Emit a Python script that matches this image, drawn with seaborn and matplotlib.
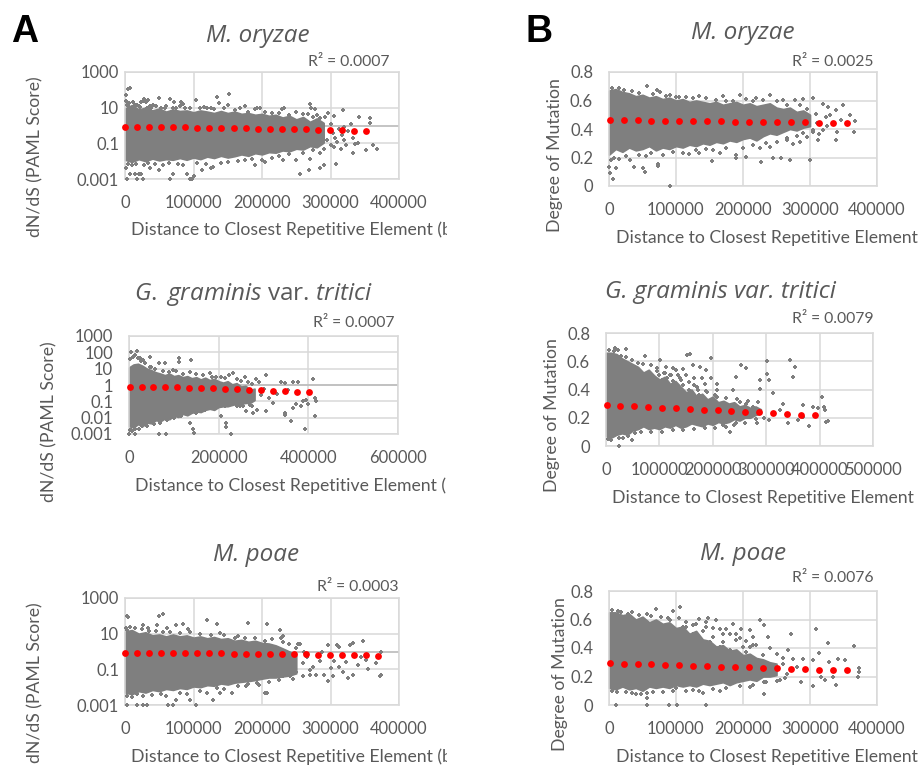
import matplotlib
matplotlib.use("Agg")
import matplotlib.pyplot as plt
import pandas as pd
import seaborn as sns
from matplotlib.transforms import Bbox

W, H = 922, 765
GREY = "#7f7f7f"
TXT = "#595959"
GRID = "#d9d9d9"

# dense part of each cloud, read as lower / upper edge per distance
a1_cloud_x = [0, 10000, 20000, 30000, 40000, 50000, 60000, 70000, 80000, 90000, 100000, 110000, 120000, 130000, 140000,
              150000, 160000, 170000, 180000, 190000, 200000, 210000, 220000, 230000, 240000, 250000, 260000, 270000,
              280000, 290000]
a1_cloud_lo = [0.012, 0.009, 0.013, 0.010, 0.014, 0.011, 0.013, 0.012, 0.015, 0.012, 0.016, 0.013, 0.018, 0.015, 0.02,
               0.016, 0.019, 0.024, 0.02, 0.028, 0.024, 0.032, 0.03, 0.04, 0.036, 0.05, 0.045, 0.07, 0.06, 0.11]
a1_cloud_hi = [9, 14, 8, 10, 7, 9, 6, 8, 6.5, 7, 5.5, 7, 6, 5, 6.5, 5, 6, 4.5, 5, 4, 4.5, 3.5, 4, 2.8, 3.5, 2.2, 3, 1.6,
               2.5, 1.4]

a2_cloud_x = [0, 10000, 20000, 30000, 40000, 50000, 60000, 70000, 80000, 90000, 100000, 110000, 120000, 130000, 140000,
              150000, 160000, 170000, 180000, 190000, 200000, 210000, 220000, 230000, 240000, 250000, 260000, 270000,
              280000]
a2_cloud_lo = [0.003, 0.0025, 0.004, 0.003, 0.005, 0.0045, 0.007, 0.006, 0.009, 0.008, 0.013, 0.011, 0.017, 0.014, 0.02,
               0.024, 0.022, 0.03, 0.035, 0.03, 0.045, 0.05, 0.05, 0.06, 0.07, 0.07, 0.08, 0.08, 0.12]
a2_cloud_hi = [12, 18, 20, 15, 10, 8, 6, 5, 4, 5, 3.5, 4, 3, 3.5, 2.6, 3, 2.2, 2.8, 2, 2.4, 1.7, 1.4, 1.7, 1.1, 1.3, 0.8,
               0.9, 0.5, 0.6]

a3_cloud_x = [0, 10000, 20000, 30000, 40000, 50000, 60000, 70000, 80000, 90000, 100000, 110000, 120000, 130000, 140000,
              150000, 160000, 170000, 180000, 190000, 200000, 210000, 220000, 230000, 240000, 250000]
a3_cloud_lo = [0.005, 0.004, 0.006, 0.005, 0.007, 0.006, 0.008, 0.007, 0.009, 0.008, 0.011, 0.01, 0.013, 0.012, 0.016,
               0.014, 0.018, 0.02, 0.022, 0.025, 0.03, 0.035, 0.035, 0.04, 0.045, 0.06]
a3_cloud_hi = [13, 16, 10, 12, 8, 9, 7, 9, 7, 8, 6, 7, 5.5, 6.5, 5, 5.5, 4, 4.5, 3.5, 4, 3, 2.8, 2.2, 1.5, 1, 0.6]

b1_cloud_x = [0, 10000, 20000, 30000, 40000, 50000, 60000, 70000, 80000, 90000, 100000, 110000, 120000, 130000, 140000,
              150000, 160000, 170000, 180000, 190000, 200000, 210000, 220000, 230000, 240000, 250000, 260000, 270000,
              280000, 290000, 300000]
b1_cloud_lo = [0.22, 0.26, 0.24, 0.27, 0.25, 0.26, 0.28, 0.25, 0.27, 0.26, 0.28, 0.27, 0.29, 0.28, 0.30, 0.29, 0.31,
               0.30, 0.32, 0.31, 0.33, 0.34, 0.32, 0.35, 0.37, 0.36, 0.38, 0.40, 0.39, 0.41, 0.42]
b1_cloud_hi = [0.67, 0.68, 0.66, 0.65, 0.63, 0.64, 0.62, 0.63, 0.61, 0.62, 0.60, 0.61, 0.59, 0.60, 0.59, 0.58, 0.59,
               0.57, 0.58, 0.59, 0.57, 0.58, 0.56, 0.57, 0.58, 0.55, 0.54, 0.55, 0.52, 0.53, 0.50]

b2_cloud_x = [0, 10000, 20000, 30000, 40000, 50000, 60000, 70000, 80000, 90000, 100000, 110000, 120000, 130000, 140000,
              150000, 160000, 170000, 180000, 190000, 200000, 210000, 220000, 230000, 240000, 250000, 260000, 270000,
              280000, 290000]
b2_cloud_lo = [0.07, 0.06, 0.08, 0.09, 0.08, 0.11, 0.12, 0.14, 0.12, 0.13, 0.12, 0.14, 0.13, 0.15, 0.13, 0.14, 0.16,
               0.15, 0.14, 0.16, 0.15, 0.17, 0.16, 0.17, 0.19, 0.18, 0.2, 0.2, 0.22, 0.23]
b2_cloud_hi = [0.66, 0.66, 0.65, 0.62, 0.6, 0.58, 0.56, 0.52, 0.54, 0.5, 0.47, 0.49, 0.44, 0.46, 0.42, 0.38, 0.4, 0.35,
               0.37, 0.33, 0.35, 0.31, 0.32, 0.3, 0.31, 0.28, 0.29, 0.27, 0.28, 0.26]

b3_cloud_x = [0, 10000, 20000, 30000, 40000, 50000, 60000, 70000, 80000, 90000, 100000, 110000, 120000, 130000, 140000,
              150000, 160000, 170000, 180000, 190000, 200000, 210000, 220000, 230000, 240000, 250000]
b3_cloud_lo = [0.12, 0.11, 0.13, 0.11, 0.12, 0.1, 0.13, 0.12, 0.13, 0.12, 0.14, 0.13, 0.14, 0.13, 0.15, 0.14, 0.15, 0.16,
               0.14, 0.16, 0.17, 0.18, 0.17, 0.2, 0.2, 0.21]
b3_cloud_hi = [0.65, 0.65, 0.63, 0.64, 0.6, 0.62, 0.58, 0.6, 0.57, 0.58, 0.54, 0.55, 0.5, 0.52, 0.46, 0.45, 0.41, 0.42,
               0.38, 0.39, 0.35, 0.36, 0.33, 0.32, 0.3, 0.29]

# single points visible outside the dense part
a1_points = [(2000, 50), (4000, 110), (7000, 120), (1000, 25), (3000, 15), (6000, 18), (10000, 10), (14000, 14),
             (20000, 12), (26000, 25), (28000, 32), (30000, 20), (33000, 28), (24000, 22), (36000, 12), (41000, 14),
             (50000, 35), (60000, 12), (65000, 30), (70000, 9), (72000, 22), (80000, 12), (82000, 22), (84000, 16),
             (104000, 26), (120000, 10), (135000, 40), (137000, 18), (152000, 60), (150000, 15), (175000, 12),
             (190000, 8), (192000, 9), (197000, 9), (229000, 8), (232000, 9), (270000, 17), (272000, 10), (278000, 8),
             (318000, 7), (267000, 4.7), (342000, 3), (357000, 2.5), (357000, 1.3), (352000, 0.45), (352000, 0.042),
             (362000, 0.08), (368000, 0.05), (333000, 0.028), (340000, 0.1), (320000, 0.85), (308000, 0.0069),
             (292000, 3), (296000, 5), (300000, 1.2), (303000, 0.4), (306000, 0.2), (310000, 0.12), (313000, 0.6),
             (317000, 0.3), (320000, 0.15), (323000, 0.08), (326000, 0.5), (330000, 1.2), (333000, 0.2),
             (336000, 0.09), (300000, 0.08), (295000, 0.15), (305000, 0.06), (315000, 0.05), (285000, 0.03),
             (290000, 0.05), (280000, 4), (285000, 2.5), (275000, 3), (305000, 3.5),
             (2000, 0.004), (3000, 0.001), (8000, 0.002), (14000, 0.002), (17000, 0.001), (20000, 0.002),
             (24000, 0.002), (26000, 0.001), (36000, 0.004), (50000, 0.003), (66000, 0.001), (70000, 0.002),
             (90000, 0.002), (95000, 0.001), (100000, 0.0015), (98000, 0.001), (113000, 0.003), (125000, 0.004),
             (128000, 0.005), (190000, 0.006), (255000, 0.002), (269000, 0.003), (285000, 0.004), (290000, 0.006),
             (205000, 0.009), (230000, 0.012), (250000, 0.012), (270000, 0.014),
             (5000, 12), (12000, 20), (18000, 15), (22000, 11), (32000, 10), (38000, 9), (45000, 13), (52000, 10),
             (58000, 9), (75000, 10), (88000, 9), (95000, 10), (110000, 9), (115000, 11), (125000, 9), (130000, 8),
             (145000, 9), (160000, 7), (168000, 9), (180000, 6), (205000, 6), (215000, 5), (225000, 5), (240000, 4),
             (250000, 6), (260000, 4.5), (4000, 0.007), (10000, 0.006), (16000, 0.007), (28000, 0.006), (34000, 0.008),
             (44000, 0.007), (56000, 0.006), (64000, 0.008), (78000, 0.007), (85000, 0.006), (105000, 0.008),
             (118000, 0.007), (140000, 0.008), (150000, 0.009), (165000, 0.01), (175000, 0.012), (185000, 0.013),
             (200000, 0.011), (215000, 0.016), (225000, 0.02), (240000, 0.025), (260000, 0.03), (275000, 0.04)]
a2_points = [(5000, 100), (18000, 120), (13000, 68), (24000, 43), (31000, 34), (46000, 50), (68000, 21), (80000, 21),
             (111000, 47), (111000, 27), (139000, 34), (98000, 8), (46000, 13), (180000, 5.6), (195000, 3.2),
             (224000, 4), (232000, 5.2), (259000, 3.2), (284000, 2.3), (306000, 4), (291000, 1.6), (340000, 1.6),
             (347000, 1.3), (366000, 1.6), (377000, 1.6), (410000, 2.3), (414000, 0.16), (418000, 0.11),
             (414000, 0.013), (392000, 0.0019), (384000, 0.052), (373000, 0.07), (366000, 0.04), (388000, 0.1),
             (362000, 0.0067), (347000, 0.018), (347000, 0.014), (306000, 0.024), (321000, 0.08), (276000, 0.018),
             (261000, 0.024), (228000, 0.001), (217000, 0.0028), (217000, 0.0046), (206000, 0.013), (146000, 0.0012),
             (143000, 0.0019), (135000, 0.0046), (83000, 0.001), (68000, 0.001), (13000, 0.001), (5000, 0.0018),
             (1000, 0.001), (269000, 0.15), (247000, 0.05), (275000, 0.05), (285000, 0.03), (295000, 0.25),
             (300000, 0.6), (312000, 0.15), (330000, 0.3), (355000, 0.5), (395000, 0.12), (400000, 0.07),
             (3000, 40), (10000, 50), (20000, 45), (27000, 30), (35000, 22), (50000, 12), (58000, 9), (75000, 7),
             (90000, 6), (105000, 7), (120000, 5), (135000, 6), (150000, 4.5), (165000, 4), (185000, 3.2), (205000, 3),
             (215000, 2.8), (240000, 2.4), (250000, 1.8), (265000, 1.5), (275000, 1.2), (2000, 0.0018), (7000, 0.0015),
             (14000, 0.002), (22000, 0.002), (30000, 0.003), (40000, 0.003), (55000, 0.004), (70000, 0.005),
             (85000, 0.007), (100000, 0.01), (115000, 0.012), (130000, 0.016), (150000, 0.02), (170000, 0.03),
             (190000, 0.04), (215000, 0.05), (240000, 0.05), (255000, 0.05), (270000, 0.06)]
a3_points = [(2500, 102), (5000, 86), (1000, 20), (2500, 16), (49000, 102), (56000, 132), (46000, 32), (27000, 32),
             (34000, 21), (61000, 21), (75000, 32), (85000, 35), (92000, 18), (119000, 56), (134000, 35), (180000, 40),
             (207000, 35), (226000, 17), (231000, 7.7), (228000, 5.8), (165000, 7), (139000, 11), (253000, 2.7),
             (255000, 2.7), (287000, 1), (296000, 2.4), (309000, 2.4), (313000, 1.9), (328000, 2.4), (333000, 3),
             (347000, 3.7), (374000, 1), (367000, 0.22), (352000, 0.35), (340000, 0.17), (355000, 0.11), (374000, 0.046),
             (372000, 0.04), (333000, 0.046), (326000, 0.032), (304000, 0.04), (296000, 0.022), (279000, 0.05),
             (284000, 0.28), (313000, 0.14), (318000, 0.075), (250000, 0.072), (260000, 0.22), (270000, 0.097),
             (207000, 0.0046), (204000, 0.005), (192000, 0.017), (177000, 0.011), (156000, 0.0047), (139000, 0.0047),
             (129000, 0.0019), (104000, 0.001), (95000, 0.0019), (75000, 0.0019), (70000, 0.001), (63000, 0.001),
             (32000, 0.001), (27000, 0.001), (17000, 0.001), (2500, 0.001), (236000, 0.28), (241000, 0.04),
             (231000, 0.04), (245000, 0.13), (265000, 0.5), (275000, 0.13), (290000, 0.05), (300000, 0.12),
             (322000, 0.25), (345000, 0.5), (305000, 0.3),
             (7000, 25), (15000, 22), (25000, 18), (35000, 14), (45000, 14), (55000, 12), (65000, 13), (80000, 11),
             (95000, 12), (110000, 9), (125000, 8), (145000, 8), (160000, 6), (175000, 6), (190000, 6), (205000, 4),
             (215000, 5), (230000, 3.5), (240000, 2.5), (250000, 1.6), (262000, 1), (3000, 0.003), (10000, 0.0028),
             (18000, 0.004), (26000, 0.003), (40000, 0.0035), (52000, 0.004), (60000, 0.003), (80000, 0.005),
             (90000, 0.004), (110000, 0.006), (120000, 0.005), (135000, 0.009), (145000, 0.008), (165000, 0.012),
             (180000, 0.015), (195000, 0.014), (210000, 0.02), (225000, 0.025), (245000, 0.03), (260000, 0.04),
             (270000, 0.05)]
b1_points = [(23000, 0.676), (56000, 0.7), (71000, 0.672), (76000, 0.66), (91000, 0.637), (105000, 0.625),
             (135000, 0.63), (170000, 0.63), (195000, 0.64), (185000, 0.6), (220000, 0.62), (240000, 0.637),
             (260000, 0.606), (277000, 0.606), (290000, 0.61), (304000, 0.62), (319000, 0.578), (327000, 0.555),
             (349000, 0.567), (339000, 0.53), (359000, 0.497), (367000, 0.457), (347000, 0.462), (366000, 0.378),
             (339000, 0.322), (340000, 0.378), (319000, 0.392), (312000, 0.322), (300000, 0.182), (270000, 0.182),
             (257000, 0.194), (245000, 0.2), (227000, 0.166), (190000, 0.194), (153000, 0.177), (73000, 0.14),
             (73000, 0.154), (53000, 0.1), (51000, 0.124), (38000, 0.135), (11000, 0.124), (2000, 0.089),
             (6000, 0.047), (91000, 0), (0, 0.135), (120000, 0.224), (135000, 0.229), (165000, 0.229), (190000, 0.217),
             (205000, 0.205), (225000, 0.264), (240000, 0.275), (275000, 0.298), (285000, 0.31), (295000, 0.345),
             (304000, 0.38), (314000, 0.368), (324000, 0.485), (309000, 0.508), (295000, 0.543), (280000, 0.485),
             (265000, 0.32), (330000, 0.5), (310000, 0.44), (325000, 0.42),
             (5000, 0.685), (15000, 0.69), (35000, 0.665), (45000, 0.655), (65000, 0.645), (85000, 0.63), (100000, 0.625),
             (115000, 0.625), (125000, 0.62), (145000, 0.615), (160000, 0.605), (175000, 0.6), (205000, 0.61),
             (215000, 0.6), (230000, 0.605), (250000, 0.6), (265000, 0.57), (285000, 0.565), (3000, 0.18), (8000, 0.2),
             (15000, 0.19), (25000, 0.21), (32000, 0.18), (45000, 0.22), (55000, 0.21), (62000, 0.23), (80000, 0.22),
             (95000, 0.24), (110000, 0.23), (130000, 0.25), (145000, 0.26), (155000, 0.25), (175000, 0.27),
             (200000, 0.27), (215000, 0.29), (235000, 0.3), (250000, 0.31), (265000, 0.34), (280000, 0.35),
             (290000, 0.37), (305000, 0.39)]
b2_points = [(17000, 0.696), (23000, 0.678), (37000, 0.69), (73000, 0.635), (101000, 0.61), (145000, 0.548),
             (158000, 0.65), (151000, 0.642), (196000, 0.626), (176000, 0.56), (163000, 0.572), (132000, 0.536),
             (113000, 0.56), (188000, 0.536), (179000, 0.478), (197000, 0.478), (208000, 0.442), (208000, 0.395),
             (208000, 0.348), (238000, 0.4), (243000, 0.489), (252000, 0.576), (263000, 0.555), (289000, 0.407),
             (289000, 0.466), (301000, 0.513), (301000, 0.602), (306000, 0.466), (313000, 0.376), (344000, 0.607),
             (353000, 0.56), (350000, 0.485), (404000, 0.348), (409000, 0.278), (411000, 0.254), (412000, 0.172),
             (415000, 0.179), (381000, 0.141), (341000, 0.165), (359000, 0.184), (306000, 0.184), (282000, 0.165),
             (232000, 0.101), (225000, 0.136), (244000, 0.16), (25000, 0), (48000, 0.042), (331000, 0.3), (369000, 0.29),
             (387000, 0.278), (397000, 0.266), (263000, 0.3), (275000, 0.278), (250000, 0.313), (313000, 0.23),
             (325000, 0.254), (369000, 0.207), (120000, 0.5), (140000, 0.47), (150000, 0.5), (165000, 0.48),
             (170000, 0.42), (185000, 0.44), (130000, 0.42), (110000, 0.52), (125000, 0.55), (155000, 0.4),
             (175000, 0.36), (190000, 0.38), (160000, 0.38), (95000, 0.55), (105000, 0.47), (135000, 0.5),
             (115000, 0.48), (100000, 0.5), (145000, 0.43), (165000, 0.43), (125000, 0.46),
             (6000, 0.68), (15000, 0.675), (28000, 0.64), (38000, 0.63), (48000, 0.61), (60000, 0.59), (70000, 0.58),
             (85000, 0.57), (95000, 0.53), (108000, 0.52), (122000, 0.5), (138000, 0.48), (155000, 0.45), (172000, 0.4),
             (188000, 0.39), (205000, 0.36), (225000, 0.34), (245000, 0.33), (265000, 0.32), (285000, 0.31),
             (4000, 0.05), (10000, 0.04), (25000, 0.06), (32000, 0.06), (42000, 0.07), (55000, 0.09), (65000, 0.1),
             (85000, 0.1), (105000, 0.1), (125000, 0.11), (145000, 0.11), (165000, 0.12), (185000, 0.13), (205000, 0.13),
             (220000, 0.15), (240000, 0.15), (260000, 0.16), (280000, 0.19), (295000, 0.2)]
b3_points = [(13000, 0.658), (28000, 0.64), (56000, 0.64), (70000, 0.672), (96000, 0.658), (106000, 0.688),
             (91000, 0.595), (105000, 0.613), (135000, 0.606), (148000, 0.613), (160000, 0.595), (115000, 0.548),
             (125000, 0.5), (145000, 0.548), (155000, 0.478), (170000, 0.5), (185000, 0.571), (197000, 0.536),
             (210000, 0.525), (225000, 0.6), (232000, 0.56), (237000, 0.478), (215000, 0.478), (190000, 0.455),
             (165000, 0.408), (180000, 0.385), (200000, 0.408), (210000, 0.408), (230000, 0.35), (271000, 0.5),
             (267000, 0.385), (309000, 0.536), (327000, 0.438), (314000, 0.366), (366000, 0.413), (373000, 0.263),
             (373000, 0.233), (372000, 0.194), (352000, 0.315), (342000, 0.326), (329000, 0.303), (304000, 0.315),
             (290000, 0.326), (275000, 0.326), (260000, 0.29), (304000, 0.135), (339000, 0.14), (322000, 0.175),
             (317000, 0.198), (287000, 0.163), (232000, 0.077), (232000, 0.163), (210000, 0.128), (165000, 0.1),
             (140000, 0.086), (125000, 0.105), (100000, 0.121), (56000, 0.082), (56000, 0.047), (41000, 0.077),
             (11000, 0), (56000, 0), (89000, 0), (102000, 0), (145000, 0), (265000, 0.22), (255000, 0.175),
             (280000, 0.268), (334000, 0.198), (357000, 0.245), (125000, 0.56), (140000, 0.52), (150000, 0.44),
             (170000, 0.44), (120000, 0.46), (135000, 0.45), (110000, 0.55), (195000, 0.47), (220000, 0.42),
             (180000, 0.5), (155000, 0.54), (205000, 0.37),
             (4000, 0.665), (18000, 0.655), (35000, 0.655), (45000, 0.63), (62000, 0.625), (78000, 0.62), (88000, 0.61),
             (115000, 0.58), (130000, 0.57), (145000, 0.58), (165000, 0.53), (175000, 0.53), (190000, 0.5),
             (205000, 0.45), (215000, 0.42), (240000, 0.4), (250000, 0.36), (260000, 0.33), (5000, 0.1), (12000, 0.09),
             (25000, 0.09), (35000, 0.085), (48000, 0.08), (65000, 0.09), (80000, 0.09), (95000, 0.1), (115000, 0.1),
             (135000, 0.1), (155000, 0.11), (175000, 0.12), (195000, 0.13), (215000, 0.14), (235000, 0.16),
             (250000, 0.17), (262000, 0.19)]

# trendline dots
a1_trend_x = [0, 17600, 35200, 52800, 70400, 88000, 105600, 123200, 140800, 158400, 176000, 193600, 211200, 228800,
              246400, 264000, 281600, 299200, 316800, 334400, 352000]
a1_trend_y = [0.85, 0.84, 0.82, 0.81, 0.79, 0.78, 0.76, 0.75, 0.73, 0.71, 0.69, 0.67, 0.66, 0.63, 0.62, 0.6, 0.57,
              0.55, 0.53, 0.5, 0.47]
a2_trend_x = [1500, 28000, 54000, 81000, 108000, 134000, 161000, 188000, 214000, 241000, 268000, 294000, 321000,
              348000, 374000, 401000]
a2_trend_y = [0.79, 0.77, 0.74, 0.74, 0.71, 0.69, 0.63, 0.63, 0.6, 0.56, 0.51, 0.49, 0.45, 0.41, 0.38, 0.35]
a3_trend_x = [0, 17600, 35200, 52800, 70400, 88000, 105600, 123200, 140800, 158400, 176000, 193600, 211200, 228800,
              246400, 264000, 281600, 299200, 316800, 334400, 352000, 369600]
a3_trend_y = [0.85, 0.85, 0.84, 0.83, 0.82, 0.81, 0.8, 0.79, 0.78, 0.76, 0.75, 0.74, 0.72, 0.71, 0.7, 0.68, 0.67,
              0.65, 0.63, 0.61, 0.6, 0.58]
b1_trend_x = [1000, 21800, 42600, 63400, 84200, 105000, 125800, 146600, 167400, 188200, 209000, 229800, 250600,
              271400, 292200, 313000, 333800, 354600]
b1_trend_y = [0.462, 0.461, 0.46, 0.458, 0.457, 0.456, 0.455, 0.454, 0.453, 0.452, 0.451, 0.45, 0.449, 0.448, 0.446,
              0.445, 0.444, 0.441]
b2_trend_x = [1000, 27000, 53000, 79000, 105000, 131000, 157000, 183000, 209000, 235000, 261000, 287000, 313000,
              339000, 365000, 391000]
b2_trend_y = [0.289, 0.285, 0.28, 0.275, 0.27, 0.266, 0.262, 0.256, 0.252, 0.247, 0.243, 0.238, 0.234, 0.228, 0.222,
              0.216]
b3_trend_x = [1000, 21800, 42600, 63400, 84200, 105000, 125800, 146600, 167400, 188200, 209000, 229800, 250600,
              271400, 292200, 313000, 333800, 354600]
b3_trend_y = [0.294, 0.291, 0.288, 0.285, 0.282, 0.279, 0.276, 0.273, 0.27, 0.267, 0.264, 0.261, 0.258, 0.255, 0.252,
              0.249, 0.246, 0.243]

log_ticks = [1000, 10, 0.1, 0.001]
log_labels = ["1000", "10", "0.1", "0.001"]
all_log_ticks = [1000, 100, 10, 1, 0.1, 0.01, 0.001]
all_log_labels = ["1000", "100", "10", "1", "0.1", "0.01", "0.001"]
mut_ticks = [0, 0.2, 0.4, 0.6, 0.8]
mut_labels = ["0", "0.2", "0.4", "0.6", "0.8"]
x_ticks_400 = [0, 100000, 200000, 300000, 400000]
x_ticks_500 = [0, 100000, 200000, 300000, 400000, 500000]
x_ticks_600 = [0, 200000, 400000, 600000]

xname_bp = "Distance to Closest Repetitive Element (bp)"
xname = "Distance to Closest Repetitive Element"

panels = [
    dict(box=(125, 72, 399, 179), title="M. oryzae", title_xy=(258, 36), r2="R² = 0.0007", r2_xy=(349, 62),
         cloud=(a1_cloud_x, a1_cloud_lo, a1_cloud_hi), points=a1_points, trend=(a1_trend_x, a1_trend_y),
         xticks=x_ticks_400, yticks=log_ticks, ylabels=log_labels, ylim=(0.001, 1000), log=True, ypad=6,
         ylabel="dN/dS (PAML Score)", ylabel_xy=(35, 157), xlabel=xname_bp, xlabel_xy=(131, 230), tick_y=202),
    dict(box=(129, 336, 398, 434), title=r"$\mathit{G.}$ $\mathit{graminis}$ var. $\mathit{tritici}$", title_xy=(253, 295),
         r2="R² = 0.0007", r2_xy=(354, 323),
         cloud=(a2_cloud_x, a2_cloud_lo, a2_cloud_hi), points=a2_points, trend=(a2_trend_x, a2_trend_y),
         xticks=x_ticks_600, yticks=all_log_ticks, ylabels=all_log_labels, ylim=(0.001, 1000), log=True, ypad=16,
         ylabel="dN/dS (PAML Score)", ylabel_xy=(49, 422), xlabel=xname_bp, xlabel_xy=(135, 486), tick_y=457),
    dict(box=(125, 598, 399, 705), title="M. poae", title_xy=(256, 555), r2="R² = 0.0003", r2_xy=(358, 587),
         cloud=(a3_cloud_x, a3_cloud_lo, a3_cloud_hi), points=a3_points, trend=(a3_trend_x, a3_trend_y),
         xticks=x_ticks_400, yticks=log_ticks, ylabels=log_labels, ylim=(0.001, 1000), log=True, ypad=6,
         ylabel="dN/dS (PAML Score)", ylabel_xy=(35, 683), xlabel=xname_bp, xlabel_xy=(131, 757), tick_y=728),
    dict(box=(609, 72, 877, 186), title="M. oryzae", title_xy=(743, 33), r2="R² = 0.0025", r2_xy=(833, 62),
         cloud=(b1_cloud_x, b1_cloud_lo, b1_cloud_hi), points=b1_points, trend=(b1_trend_x, b1_trend_y),
         xticks=x_ticks_400, yticks=mut_ticks, ylabels=mut_labels, ylim=(0, 0.8), log=False, ypad=16,
         ylabel="Degree of Mutation", ylabel_xy=(555, 155), xlabel=xname, xlabel_xy=(616, 238), tick_y=209),
    dict(box=(606, 333, 873, 446), title="G. graminis var. tritici", title_xy=(720, 292), r2="R² = 0.0079", r2_xy=(833, 319),
         cloud=(b2_cloud_x, b2_cloud_lo, b2_cloud_hi), points=b2_points, trend=(b2_trend_x, b2_trend_y),
         xticks=x_ticks_500, yticks=mut_ticks, ylabels=mut_labels, ylim=(0, 0.8), log=False, ypad=16,
         ylabel="Degree of Mutation", ylabel_xy=(552, 415), xlabel=xname, xlabel_xy=(612, 498), tick_y=469),
    dict(box=(609, 591, 877, 705), title="M. poae", title_xy=(743, 554), r2="R² = 0.0076", r2_xy=(833, 578),
         cloud=(b3_cloud_x, b3_cloud_lo, b3_cloud_hi), points=b3_points, trend=(b3_trend_x, b3_trend_y),
         xticks=x_ticks_400, yticks=mut_ticks, ylabels=mut_labels, ylim=(0, 0.8), log=False, ypad=16,
         ylabel="Degree of Mutation", ylabel_xy=(560, 674), xlabel=xname, xlabel_xy=(616, 757), tick_y=728),
]

sns.set_style("white")
plt.rcParams["font.family"] = ["Lato", "DejaVu Sans"]
plt.rcParams["mathtext.fontset"] = "custom"
plt.rcParams["mathtext.it"] = "Open Sans:italic"
plt.rcParams["mathtext.rm"] = "Open Sans"

fig = plt.figure(figsize=(W / 100, H / 100), dpi=100, facecolor="white")


def fx(x):
    return x / W


def fy(y):
    return 1 - y / H


def draw_panel(p):
    left, top, right, bottom = p["box"]
    ax = fig.add_axes([fx(left), fy(bottom), (right - left) / W, (bottom - top) / H])
    if p["log"]:
        ax.set_yscale("log")
    ax.set_xlim(p["xticks"][0], p["xticks"][-1])
    ax.set_ylim(*p["ylim"])
    ax.set_axisbelow(True)
    ax.grid(True, color=GRID, lw=1.1)
    ax.minorticks_off()
    for s in ax.spines.values():
        s.set_color(GRID)
        s.set_linewidth(1.1)
    if p["log"]:
        ax.axhline(1, color="#bfbfbf", lw=1.3, zorder=1)

    cx, lo, hi = p["cloud"]
    ax.fill_between(cx, lo, hi, color=GREY, lw=1.2, clip_on=False, zorder=2)

    pts = pd.DataFrame(p["points"], columns=["dist", "val"])
    sns.scatterplot(data=pts, x="dist", y="val", ax=ax, marker="P", color=GREY, s=12, linewidth=0,
                    clip_on=False, zorder=3, legend=False)
    tr = pd.DataFrame({"dist": p["trend"][0], "val": p["trend"][1]})
    sns.scatterplot(data=tr, x="dist", y="val", ax=ax, marker="o", color="#ff0000", s=24, linewidth=0,
                    clip_on=False, zorder=4, legend=False)

    ax.set_xticks(p["xticks"])
    ax.set_xticklabels([str(t) for t in p["xticks"]])
    ax.set_yticks(p["yticks"])
    ax.set_yticklabels(p["ylabels"])
    ax.tick_params(axis="x", length=0, labelsize=11.9, labelcolor=TXT, pad=(p["tick_y"] - bottom - 7) * 0.72)
    ax.tick_params(axis="y", length=0, labelsize=11.9, labelcolor=TXT, pad=p["ypad"] * 0.72)

    ax.set_ylabel(p["ylabel"], fontsize=12.7, color=TXT, va="center")
    ax.yaxis.set_label_coords(fx(p["ylabel_xy"][0]), fy(p["ylabel_xy"][1]), transform=fig.transFigure)
    ax.set_xlabel(p["xlabel"], fontsize=12.7, color=TXT, ha="left", va="center")
    ax.xaxis.set_label_coords(fx(p["xlabel_xy"][0]), fy(p["xlabel_xy"][1]), transform=fig.transFigure)
    if p["xlabel"] == xname_bp:
        # the label runs past the chart frame in the source and is cut off there
        ax.xaxis.label.set_clip_box(Bbox([[0, 0], [447, H]]))
        ax.xaxis.label.set_clip_on(True)

    fig.text(fx(p["title_xy"][0]), fy(p["title_xy"][1]), p["title"], fontsize=17.5, color=TXT, ha="center", va="center",
             family="Open Sans", style="italic" if "$" not in p["title"] else "normal")
    fig.text(fx(p["r2_xy"][0]), fy(p["r2_xy"][1]), p["r2"], fontsize=11.3, color=TXT, ha="center", va="center")


for p in panels:
    draw_panel(p)

fig.text(fx(11), fy(32), "A", fontsize=27, fontweight="bold", family="Liberation Sans", color="black", va="center")
fig.text(fx(525), fy(32), "B", fontsize=27, fontweight="bold", family="Liberation Sans", color="black", va="center")

fig.savefig("out.png", dpi=100)
